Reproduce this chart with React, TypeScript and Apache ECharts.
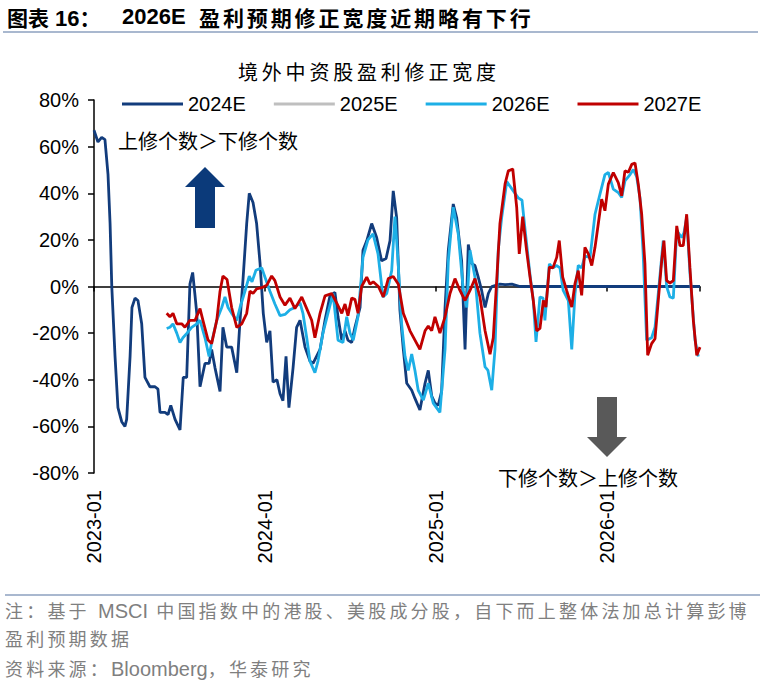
import { useEffect, useRef } from "react";
import * as echarts from "echarts";

// [year as decimal, breadth %]
const seriesNames = ["2024E", "2025E", "2026E", "2027E"];
const seriesColors = ["#123C7C", "#BFBFBF", "#1DAFE6", "#C00000"];

const e2024: [number, number][] = [
  [2023.0, 67], [2023.023, 62], [2023.045, 64], [2023.064, 63], [2023.082, 48], [2023.094, 27],
  [2023.104, 0], [2023.123, -30], [2023.14, -52], [2023.162, -58], [2023.181, -60], [2023.191, -57],
  [2023.211, -30], [2023.222, -9], [2023.24, -5], [2023.257, -6], [2023.279, -16], [2023.298, -39],
  [2023.327, -43], [2023.357, -43], [2023.374, -44], [2023.386, -54], [2023.415, -54], [2023.433, -55],
  [2023.449, -51], [2023.474, -57], [2023.503, -61.5], [2023.522, -39], [2023.542, -39], [2023.561, 1],
  [2023.577, 6], [2023.591, -4], [2023.601, -11.5], [2023.62, -43], [2023.649, -33], [2023.673, -33],
  [2023.688, -27], [2023.708, -35], [2023.737, -45], [2023.754, -17.5], [2023.776, -26], [2023.805, -26],
  [2023.835, -37], [2023.854, -14.5], [2023.871, 2.5], [2023.893, 27], [2023.908, 40], [2023.93, 36],
  [2023.951, 27], [2023.971, 10], [2023.99, -11.5], [2024.01, -24], [2024.029, -19], [2024.047, -41],
  [2024.07, -40], [2024.088, -46], [2024.105, -49], [2024.123, -30], [2024.14, -52], [2024.164, -35],
  [2024.185, -17.5], [2024.205, -14.5], [2024.234, -26], [2024.263, -32], [2024.281, -33], [2024.322, -27],
  [2024.351, -14.5], [2024.38, -4], [2024.409, -2.5], [2024.427, -13], [2024.449, -23], [2024.468, -19],
  [2024.485, -23], [2024.507, -24], [2024.526, -17.5], [2024.556, -9], [2024.573, 15.5], [2024.595, 19.6],
  [2024.624, 27], [2024.653, 21], [2024.682, 11], [2024.708, 12], [2024.731, 19.6], [2024.75, 41],
  [2024.77, 29.5], [2024.789, -10], [2024.809, -27], [2024.829, -41.5], [2024.858, -44.5], [2024.877, -48],
  [2024.906, -53], [2024.936, -41.5], [2024.955, -36], [2024.975, -47], [2024.994, -50], [2025.013, -51],
  [2025.033, -45], [2025.053, -9], [2025.072, 15.5], [2025.101, 35.4], [2025.121, 29.5], [2025.15, 11],
  [2025.17, -27], [2025.189, 18], [2025.209, 9.8], [2025.228, 9], [2025.247, 4], [2025.267, -1.7],
  [2025.287, -9], [2025.306, -3], [2025.326, 0], [2025.374, 1], [2025.404, 0.8], [2025.444, 1],
  [2025.491, 0], [2026.544, 0],
];

const e2025: [number, number][] = [];

const e2026: [number, number][] = [
  [2023.425, -18], [2023.444, -17.5], [2023.462, -16], [2023.484, -20], [2023.503, -24], [2023.52, -22],
  [2023.544, -20], [2023.571, -17.5], [2023.601, -16], [2023.62, -14.5], [2023.649, -22], [2023.673, -30],
  [2023.688, -24], [2023.718, -14.5], [2023.747, -9], [2023.766, -4.5], [2023.784, -9], [2023.805, -11.5],
  [2023.835, -14.5], [2023.854, -9], [2023.883, -2], [2023.908, 4.5], [2023.924, 2], [2023.947, 7],
  [2023.981, 8], [2024.0, 4], [2024.029, -2], [2024.058, -7.5], [2024.088, -12.5], [2024.117, -12],
  [2024.146, -10], [2024.175, -9], [2024.205, -7], [2024.222, -11.5], [2024.244, -22], [2024.263, -32],
  [2024.292, -37], [2024.31, -32], [2024.339, -20], [2024.368, -11.5], [2024.398, -3], [2024.427, -23],
  [2024.456, -24], [2024.478, -13], [2024.497, -20], [2024.516, -23], [2024.544, -13], [2024.573, 12.5],
  [2024.602, 20], [2024.632, 22.6], [2024.661, 14], [2024.69, -4.5], [2024.712, -3], [2024.741, 6.8],
  [2024.76, 30], [2024.778, 11], [2024.799, -16], [2024.819, -30], [2024.838, -36], [2024.858, -29],
  [2024.877, -36], [2024.896, -44.5], [2024.926, -48.7], [2024.955, -41.5], [2024.984, -50], [2025.023, -54],
  [2025.053, -27], [2025.072, 11], [2025.101, 34], [2025.13, 22.6], [2025.16, -1.7], [2025.18, -9],
  [2025.199, 15.5], [2025.228, 4], [2025.257, -20], [2025.287, -34.5], [2025.304, -36], [2025.326, -44.5],
  [2025.345, -27], [2025.364, 15.5], [2025.384, 29.5], [2025.414, 45], [2025.452, 41], [2025.481, 38],
  [2025.503, 37], [2025.52, 25], [2025.55, 5], [2025.569, -6], [2025.585, -23.8], [2025.608, -4.5],
  [2025.626, -5], [2025.637, -14.5], [2025.663, 9.7], [2025.684, 8], [2025.706, 9], [2025.725, 8],
  [2025.744, -1.7], [2025.774, -6], [2025.794, -27], [2025.813, -3], [2025.832, 9], [2025.852, 8],
  [2025.871, 13], [2025.901, 12.5], [2025.93, 31], [2025.959, 39.6], [2025.988, 48], [2026.008, 48.9],
  [2026.037, 41.8], [2026.066, 40.3], [2026.086, 38.2], [2026.105, 45.3], [2026.135, 48], [2026.154, 50.2],
  [2026.174, 47], [2026.193, 38], [2026.211, 15], [2026.232, -23], [2026.261, -22], [2026.281, -17.4],
  [2026.3, -3], [2026.329, 19.7], [2026.349, 0], [2026.368, -4.5], [2026.388, -5], [2026.408, 24],
  [2026.437, 21], [2026.45, 23], [2026.466, 29.6], [2026.485, 6], [2026.515, -23], [2026.534, -30],
];

const e2027: [number, number][] = [
  [2023.425, -11.5], [2023.444, -13], [2023.462, -11.5], [2023.484, -16], [2023.513, -16], [2023.532, -17.5],
  [2023.561, -14.5], [2023.591, -14.5], [2023.62, -9.5], [2023.637, -14.5], [2023.667, -23], [2023.688, -24.5],
  [2023.718, -14.5], [2023.737, -2], [2023.754, 4.5], [2023.778, 3], [2023.805, -9], [2023.835, -17.5],
  [2023.864, -16], [2023.893, -11.5], [2023.912, -2], [2023.93, -3], [2023.951, -1], [2023.981, -0.5],
  [2024.01, 0.5], [2024.039, 4.5], [2024.058, 2.5], [2024.088, -4.5], [2024.117, -8], [2024.146, -5],
  [2024.175, -9.5], [2024.215, -4.5], [2024.244, -9.5], [2024.273, -14.5], [2024.292, -22], [2024.322, -11.5],
  [2024.351, -4], [2024.39, -3], [2024.419, -7], [2024.449, -11.5], [2024.468, -7.5], [2024.485, -12.5],
  [2024.507, -5], [2024.526, -5.5], [2024.544, -11.5], [2024.565, 0], [2024.595, 4], [2024.614, 1],
  [2024.633, 2], [2024.663, 0], [2024.692, -4.5], [2024.721, 3.4], [2024.75, 4.3], [2024.78, 1],
  [2024.809, -11.5], [2024.848, -19], [2024.877, -23], [2024.906, -27], [2024.936, -19], [2024.955, -17],
  [2024.975, -19], [2024.994, -13], [2025.023, -20], [2025.053, -13], [2025.082, -3], [2025.111, 3.4],
  [2025.14, -1.7], [2025.17, -6], [2025.199, -1.7], [2025.228, 3.4], [2025.257, -4.5], [2025.287, -19],
  [2025.316, -29], [2025.335, -22], [2025.355, 2.5], [2025.374, 27], [2025.404, 44], [2025.423, 49.6],
  [2025.449, 50.4], [2025.472, 34], [2025.487, 14], [2025.507, 30], [2025.53, 15.4], [2025.55, 4],
  [2025.569, -6], [2025.589, -19], [2025.608, -18], [2025.628, -6], [2025.643, -8.8], [2025.663, 8.3],
  [2025.684, 8], [2025.706, 12.5], [2025.721, 19.7], [2025.741, 4], [2025.764, -1.7], [2025.794, -8.8],
  [2025.813, 1.3], [2025.832, 6.8], [2025.852, -3.8], [2025.871, 16.8], [2025.891, 14], [2025.911, 9],
  [2025.93, 16.8], [2025.949, 26.8], [2025.969, 37.5], [2025.988, 32.5], [2026.008, 43.9], [2026.037, 48.9],
  [2026.066, 44.6], [2026.086, 38.9], [2026.105, 49.6], [2026.125, 49], [2026.145, 52.4], [2026.164, 53],
  [2026.183, 43.9], [2026.203, 31], [2026.222, 9.7], [2026.238, -29.5], [2026.261, -24.5], [2026.281, -22.4],
  [2026.3, -6], [2026.32, 11], [2026.333, 19.7], [2026.349, 2.5], [2026.368, 1.5], [2026.388, 2.5],
  [2026.408, 26], [2026.427, 17.5], [2026.446, 17.5], [2026.466, 31], [2026.485, 8.3], [2026.505, -14.5],
  [2026.525, -29.5], [2026.544, -26],
];

const seriesData = [e2024, e2025, e2026, e2027];

const X_MIN = 2023;
const X_MAX = 2026.544;

const latin = '"Liberation Sans", Arial, sans-serif';
const cjk = '"Noto Sans CJK SC", sans-serif';
const mixed = '"Liberation Sans", Arial, "Noto Sans CJK SC", sans-serif';

function RevisionChart() {
  const ref = useRef<HTMLDivElement>(null);

  useEffect(() => {
    if (!ref.current) return;
    const chart = echarts.init(ref.current, null, { renderer: "svg" });

    chart.setOption({
      animation: false,
      backgroundColor: "transparent",
      grid: { left: 94, right: 72, top: 100, bottom: 217 },
      legend: {
        data: seriesNames,
        left: 117,
        top: 89,
        icon: "rect",
        itemWidth: 61,
        itemHeight: 3,
        itemGap: 28,
        textStyle: { fontSize: 20, fontFamily: latin, color: "#000" },
      },
      xAxis: [
        {
          type: "value", min: X_MIN, max: X_MAX, interval: 1, position: "bottom",
          axisLine: { show: false, onZero: false }, axisTick: { show: false }, splitLine: { show: false },
          axisLabel: {
            rotate: 90, margin: 17, fontSize: 20, color: "#000", fontFamily: latin,
            formatter: (v: number) => (Number.isInteger(v) ? `${v}-01` : ""),
          },
        },
        {
          type: "value", min: X_MIN, max: X_MAX, interval: 1, position: "top",
          axisLine: { show: true, onZero: true, lineStyle: { color: "#000", width: 1.5 } },
          axisTick: { show: true, inside: true, length: 5, lineStyle: { color: "#000", width: 1.5 } },
          axisLabel: { show: false }, splitLine: { show: false },
        },
      ],
      yAxis: {
        type: "value", min: -80, max: 80, interval: 20,
        axisLine: { show: true, lineStyle: { color: "#000", width: 1.5 } },
        axisTick: { show: true, length: 6, lineStyle: { color: "#000", width: 1.5 } },
        axisLabel: { formatter: "{value}%", fontSize: 20, color: "#000", fontFamily: latin, margin: 15 },
        splitLine: { show: false },
      },
      series: seriesNames.map((name, i) => ({
        name, type: "line", xAxisIndex: 0, data: seriesData[i], symbol: "none", z: 2 + i,
        lineStyle: { width: 2.8, color: seriesColors[i] },
        itemStyle: { color: seriesColors[i] },
      })),
      graphic: [
        {
          type: "text", x: 208, y: 140,
          style: { text: "上修个数＞下修个数", fontSize: 20, fontFamily: cjk, fill: "#000", textAlign: "center", textVerticalAlign: "middle" },
        },
        {
          type: "text", x: 588, y: 477,
          style: { text: "下修个数＞上修个数", fontSize: 20, fontFamily: cjk, fill: "#000", textAlign: "center", textVerticalAlign: "middle" },
        },
        {
          type: "polygon",
          shape: { points: [[205, 167], [225, 187], [215, 187], [215, 228], [195, 228], [195, 187], [185, 187]] },
          style: { fill: "#0B3A7A" },
        },
        {
          type: "polygon",
          shape: { points: [[597, 397], [617, 397], [617, 437], [627, 437], [607, 457], [587, 437], [597, 437]] },
          style: { fill: "#595959" },
        },
      ],
    });

    return () => chart.dispose();
  }, []);

  return <div ref={ref} style={{ position: "absolute", left: 0, top: 0, width: 772, height: 690 }} />;
}

export default function App() {
  useEffect(() => {
    document.body.style.margin = "0";
  }, []);

  const footerText: React.CSSProperties = {
    position: "absolute", left: 5, whiteSpace: "nowrap", fontSize: 18, lineHeight: "29px",
    letterSpacing: 3.2, color: "#7F7F7F", fontFamily: mixed,
  };
  const footerLatin: React.CSSProperties = { fontSize: 20, letterSpacing: 0, fontFamily: latin };

  return (
    <div style={{ position: "relative", width: 772, height: 690, background: "#fff", overflow: "hidden" }}>
      <RevisionChart />
      <div style={{ position: "absolute", left: 7, top: 4, lineHeight: "26px", whiteSpace: "nowrap", fontWeight: "bold", color: "#000" }}>
        <span style={{ fontFamily: cjk, fontSize: 21 }}>图表</span>
        <span style={{ fontFamily: latin, fontSize: 22, marginLeft: 6 }}>16</span>
        <span style={{ fontFamily: cjk, fontSize: 21 }}>：</span>
      </div>
      <div style={{ position: "absolute", left: 122, top: 4, lineHeight: "26px", fontFamily: latin, fontSize: 22, fontWeight: "bold", color: "#000" }}>
        2026E
      </div>
      <div style={{ position: "absolute", left: 199, top: 4, lineHeight: "26px", whiteSpace: "nowrap", fontFamily: cjk, fontSize: 21, letterSpacing: 2.9, fontWeight: "bold", color: "#000" }}>
        盈利预期修正宽度近期略有下行
      </div>
      <div style={{ position: "absolute", left: 3, top: 31, width: 755, height: 2, background: "#A9B8CF" }} />
      <div style={{ position: "absolute", left: 238, top: 59, lineHeight: "26px", whiteSpace: "nowrap", fontFamily: cjk, fontSize: 20, letterSpacing: 3.8, color: "#000" }}>
        境外中资股盈利修正宽度
      </div>
      <div style={{ position: "absolute", left: 5, top: 594, width: 755, height: 2, background: "#A9B8CF" }} />
      <div style={{ ...footerText, top: 597 }}>
        注：基于 <span style={footerLatin}>MSCI</span> 中国指数中的港股、美股成分股，自下而上整体法加总计算彭博
      </div>
      <div style={{ ...footerText, top: 626 }}>盈利预期数据</div>
      <div style={{ ...footerText, top: 655 }}>
        资料来源：<span style={footerLatin}>Bloomberg</span>，华泰研究
      </div>
    </div>
  );
}
